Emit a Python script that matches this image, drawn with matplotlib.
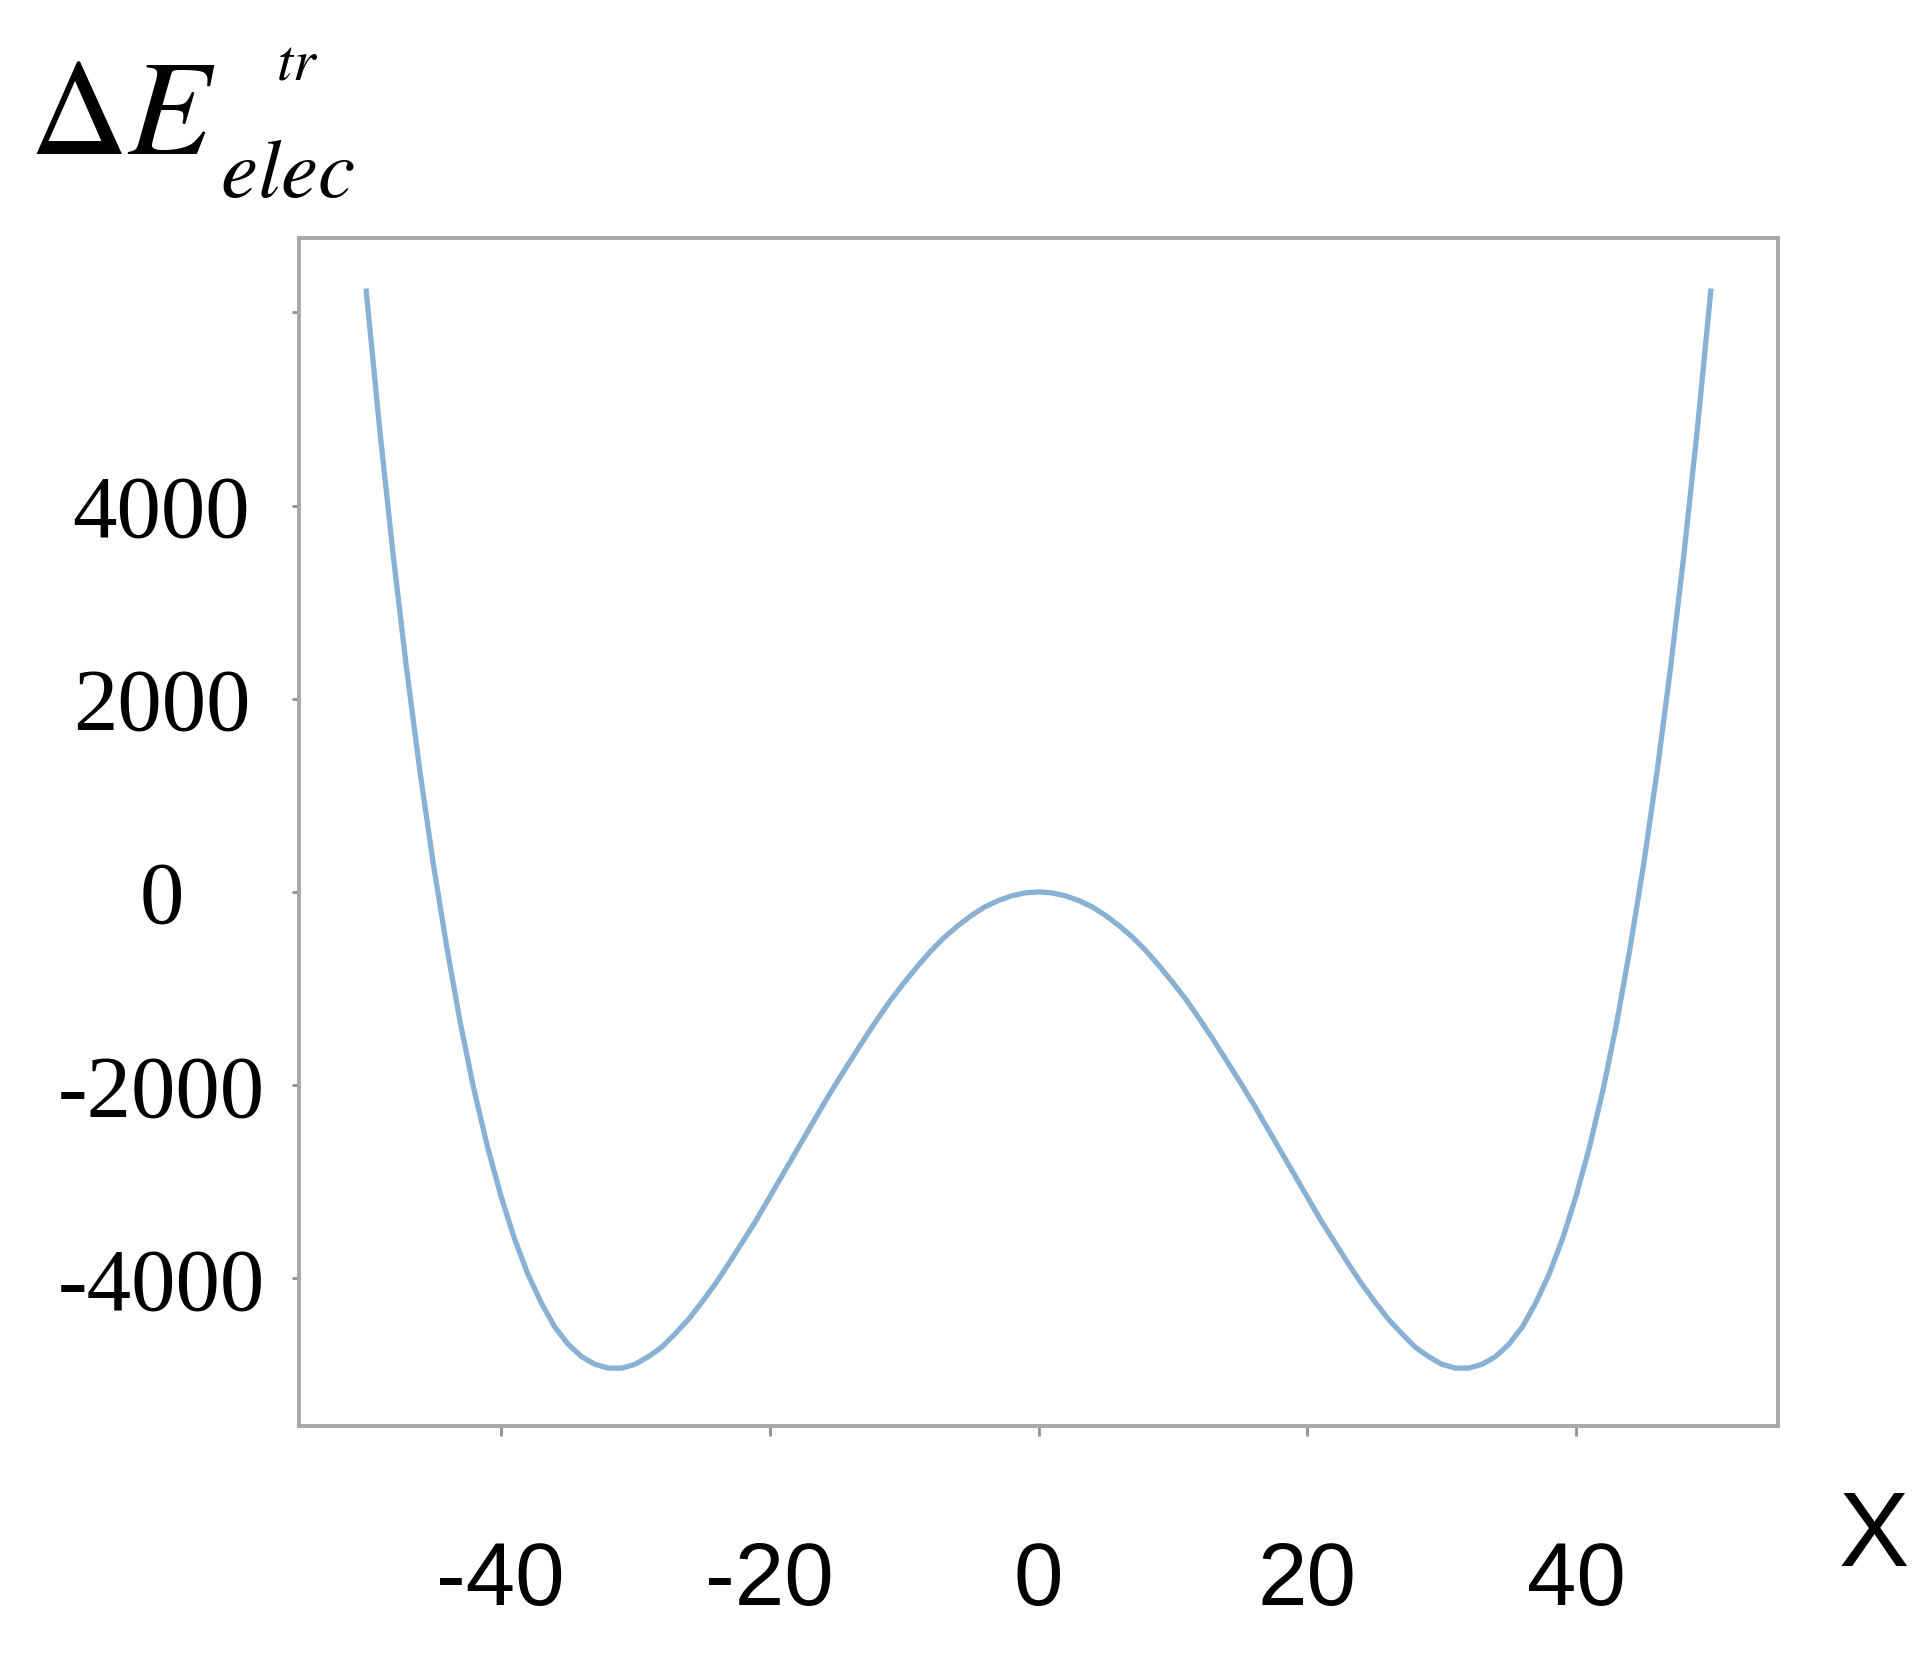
import matplotlib
matplotlib.use("Agg")
import matplotlib.pyplot as plt

# 读图得到的曲线数据（双势阱，步长 1）
x_vals = list(range(-50, 51))
e_right = [0, -10, -40, -90, -155, -245, -350, -470, -610, -770,
           -940, -1120, -1320, -1530, -1750, -1970, -2200, -2440, -2680, -2920,
           -3160, -3400, -3620, -3840, -4050, -4240, -4420, -4570, -4710, -4810,
           -4890, -4930, -4930, -4890, -4810, -4680, -4500, -4250, -3950, -3580,
           -3140, -2630, -2040, -1360, -580, 280, 1240, 2310, 3490, 4790,
           6220]
e_left = [6220, 4790, 3490, 2310, 1240, 280, -580, -1360, -2040, -2630,
          -3140, -3580, -3950, -4250, -4500, -4680, -4810, -4890, -4930, -4930,
          -4890, -4810, -4710, -4570, -4420, -4240, -4050, -3840, -3620, -3400,
          -3160, -2920, -2680, -2440, -2200, -1970, -1750, -1530, -1320, -1120,
          -940, -770, -610, -470, -350, -245, -155, -90, -40, -10]
e_vals = e_left + e_right

x_ticks = [-40, -20, 0, 20, 40]
x_labels = ['-40', '-20', '0', '20', '40']
y_ticks = [-4000, -2000, 0, 2000, 4000, 6000]
y_labels = ['-4000', '-2000', '0', '2000', '4000', '']

plt.rcParams['mathtext.fontset'] = 'stix'

fig = plt.figure(figsize=(19.28, 16.54), dpi=100)
ax = fig.add_axes([0.1551, 0.1378, 0.7671, 0.7183])

ax.plot(x_vals, e_vals, color='#89b1d4', lw=3.8, solid_joinstyle='round')

ax.set_xlim(-55, 55)
ax.set_ylim(-5530, 6770)

for s in ax.spines.values():
    s.set_color('#a8a8a8')
    s.set_linewidth(2.8)

ax.set_xticks(x_ticks)
ax.set_xticklabels(x_labels, family='Liberation Sans', fontsize=64)
ax.set_yticks(y_ticks)
ax.set_yticklabels(y_labels, family='Liberation Serif', fontsize=64, ha='center')

ax.tick_params(axis='x', direction='out', length=7, width=2, color='#909090', pad=75)
ax.tick_params(axis='y', direction='out', length=5, width=2, color='#909090', pad=94)

# 坐标轴标题
fig.text(0.99, 0.07, 'X', fontsize=76, family='Liberation Sans',
         ha='right', va='center')
fig.text(0.015, 0.907, r'$\Delta E$', fontsize=98, ha='left', va='baseline')
fig.text(0.114, 0.881, r'$elec$', fontsize=60, ha='left', va='baseline')
fig.text(0.143, 0.952, r'$tr$', fontsize=42, ha='left', va='baseline')

fig.savefig('out.png', dpi=100)
